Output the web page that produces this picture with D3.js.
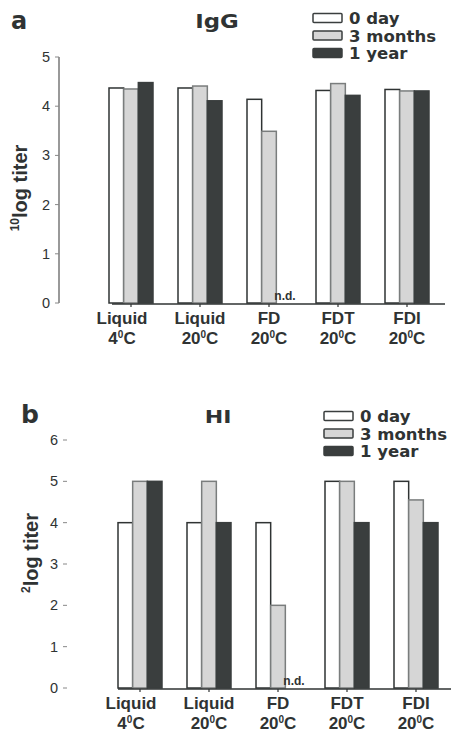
<!DOCTYPE html>
<html>
<head>
<meta charset="utf-8">
<script src="https://cdn.jsdelivr.net/npm/d3@7"></script>
<style>
  html, body { margin: 0; padding: 0; background: #fff; }
  svg { display: block; }
  text { fill: #2f3333; }
</style>
</head>
<body>
<svg id="chart" width="451" height="732"></svg>
<script>
// Storage conditions (x groups), two lines each
const categories = ["Liquid|4", "Liquid|20", "FD|20", "FDT|20", "FDI|20"];
const series = ["0 day", "3 months", "1 year"];

// IgG titres (10log); null = not detected
const igg0day    = [4.37, 4.37, 4.14, 4.32, 4.34];
const igg3months = [4.35, 4.41, 3.49, 4.46, 4.31];
const igg1year   = [4.48, 4.11, null, 4.22, 4.31];
const iggTicks   = [0, 1, 2, 3, 4, 5];

// HI titres (2log); null = not detected
const hi0day    = [4, 4, 4, 5, 5];
const hi3months = [5, 5, 2, 5, 4.55];
const hi1year   = [5, 4, null, 4, 4];
const hiTicks   = [0, 1, 2, 3, 4, 5, 6];

const fills = { "0 day": "#ffffff", "3 months": "#d6d6d6", "1 year": "#3a3e3e" };
const strokes = { "0 day": "#2f3333", "3 months": "#7a7d7d", "1 year": "#3a3e3e" };

const svg = d3.select("#chart");

function panel(cfg) {
  const g = svg.append("g");
  const y = d3.scaleLinear().domain(cfg.domain).range([cfg.y0, cfg.y1]);
  const xc = d3.scalePoint().domain(categories).range(cfg.xRange);
  const xs = d3.scaleBand().domain(series).range([-22, 22]).padding(0);

  const rows = categories.map((c, i) => ({
    cat: c,
    vals: series.map((s, j) => ({ s, v: cfg.values[j][i] }))
  }));

  // bars
  const grp = g.selectAll("g.grp").data(rows).join("g")
    .attr("transform", d => `translate(${xc(d.cat)},0)`);
  grp.selectAll("rect").data(d => d.vals.filter(e => e.v !== null)).join("rect")
    .attr("x", d => xs(d.s))
    .attr("width", xs.bandwidth())
    .attr("y", d => y(d.v))
    .attr("height", d => y(0) - y(d.v))
    .attr("fill", d => fills[d.s])
    .attr("stroke", d => strokes[d.s])
    .attr("stroke-width", 1.5);

  // not detected
  grp.filter(d => d.vals.some(e => e.v === null))
    .append("text")
    .attr("x", xs("1 year") - 2)
    .attr("y", y(0) - 3)
    .attr("font-family", "Liberation Sans, Arial, sans-serif")
    .attr("font-weight", "bold")
    .attr("font-size", 12)
    .text("n.d.");

  // x axis line + ticks
  g.append("line")
    .attr("x1", cfg.xLine[0]).attr("x2", cfg.xLine[1])
    .attr("y1", y(0) + 1).attr("y2", y(0) + 1)
    .attr("stroke", "#2f3333").attr("stroke-width", 1.5);
  g.selectAll("line.xt").data(categories).join("line")
    .attr("class", "xt")
    .attr("x1", d => xc(d)).attr("x2", d => xc(d))
    .attr("y1", y(0) + 1).attr("y2", y(0) + 4)
    .attr("stroke", "#2f3333").attr("stroke-width", 1.2);

  // x labels
  const xl = g.selectAll("text.xl").data(categories).join("text")
    .attr("class", "xl")
    .attr("text-anchor", "middle")
    .attr("font-family", "Liberation Sans, Arial, sans-serif")
    .attr("font-weight", "bold")
    .attr("font-size", 17)
    .attr("transform", (d, i) => `translate(${xc(d) + (i === 0 ? -9 : 0)},${y(0)})`);
  xl.append("tspan").attr("x", 0).attr("y", 21).text(d => d.split("|")[0]);
  const l2 = xl.append("tspan").attr("x", 0).attr("y", 41);
  l2.text(d => d.split("|")[1]);
  xl.append("tspan").attr("dy", -6).attr("font-size", 10).text("0");
  xl.append("tspan").attr("dy", 6).text("C");

  // y axis
  if (cfg.axisLine) {
    g.append("line")
      .attr("x1", cfg.axisX).attr("x2", cfg.axisX)
      .attr("y1", y(cfg.domain[1])).attr("y2", y(0))
      .attr("stroke", "#555").attr("stroke-width", 1.2);
  }
  g.selectAll("line.yt").data(cfg.ticks).join("line")
    .attr("class", "yt")
    .attr("x1", cfg.axisX - 4).attr("x2", cfg.axisX)
    .attr("y1", d => y(d)).attr("y2", d => y(d))
    .attr("stroke", "#888").attr("stroke-width", 1);
  g.selectAll("text.yl").data(cfg.ticks).join("text")
    .attr("class", "yl")
    .attr("x", cfg.axisX - 9)
    .attr("y", d => y(d) + 5)
    .attr("text-anchor", "end")
    .attr("font-family", "Liberation Sans, Arial, sans-serif")
    .attr("font-size", 14.5)
    .text(d => d);

  // y title with leading superscript base
  const yt = g.append("text")
    .attr("transform", `translate(${cfg.yTitle[0]},${cfg.yTitle[1]}) rotate(-90)`)
    .attr("text-anchor", "middle")
    .attr("font-family", "Liberation Sans, Arial, sans-serif")
    .attr("font-weight", "bold")
    .attr("font-size", 20);
  yt.append("tspan").attr("font-size", 12).attr("dy", -8).text(cfg.base);
  yt.append("tspan").attr("dy", 8).text("log titer");

  // panel letter and title
  g.append("text")
    .attr("x", cfg.letterPos[0]).attr("y", cfg.letterPos[1])
    .attr("font-family", "DejaVu Sans, sans-serif")
    .attr("font-weight", "bold")
    .attr("font-size", cfg.letterSize)
    .text(cfg.letter);
  g.append("text")
    .attr("transform", `translate(${cfg.titlePos[0]},${cfg.titlePos[1]}) scale(${cfg.titleStretch},1)`)
    .attr("text-anchor", "middle")
    .attr("font-family", "DejaVu Sans, sans-serif")
    .attr("font-weight", "bold")
    .attr("font-size", cfg.titleSize)
    .text(cfg.title);

  // legend
  const lg = g.append("g").attr("transform", `translate(${cfg.legendPos[0]},${cfg.legendPos[1]})`);
  const li = lg.selectAll("g").data(series).join("g")
    .attr("transform", (d, i) => `translate(0,${i * 17.5})`);
  li.append("rect")
    .attr("x", 0).attr("y", -4.5).attr("width", 29).attr("height", 9).attr("rx", 1)
    .attr("fill", d => fills[d])
    .attr("stroke", "#3a3e3e").attr("stroke-width", 1.5);
  li.append("text")
    .attr("x", 36).attr("y", 6)
    .attr("font-family", "DejaVu Sans, sans-serif")
    .attr("font-weight", "bold")
    .attr("font-size", 16.5)
    .text(d => d);
}

panel({
  domain: [0, 5], y0: 303, y1: 57, ticks: iggTicks,
  values: [igg0day, igg3months, igg1year],
  xRange: [131, 407], xLine: [112, 445],
  axisLine: true, axisX: 59, yTitle: [27, 188], base: "10",
  letter: "a", letterPos: [11, 29], letterSize: 24,
  title: "IgG", titlePos: [217, 28], titleSize: 19, titleStretch: 1.2,
  legendPos: [313, 18]
});

panel({
  domain: [0, 6], y0: 688, y1: 440, ticks: hiTicks,
  values: [hi0day, hi3months, hi1year],
  xRange: [140, 416], xLine: [118, 451],
  axisLine: false, axisX: 67, yTitle: [38, 553], base: "2",
  letter: "b", letterPos: [21, 423], letterSize: 25,
  title: "HI", titlePos: [218, 423], titleSize: 17, titleStretch: 1.3,
  legendPos: [324, 416]
});
</script>
</body>
</html>
